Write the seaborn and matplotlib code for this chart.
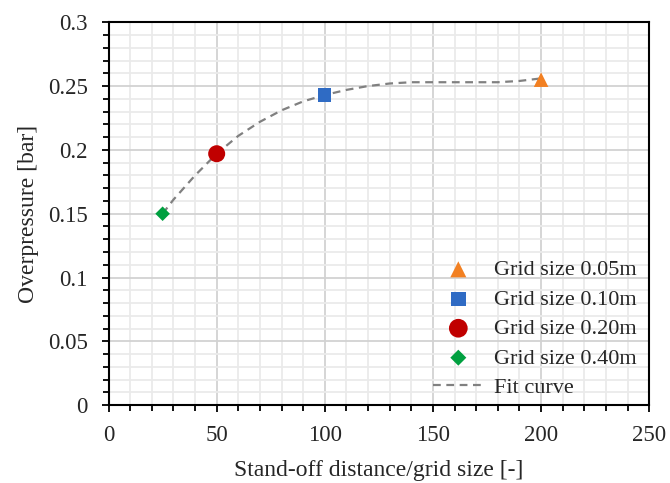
import pandas as pd
import seaborn as sns
import matplotlib.pyplot as plt
from matplotlib.ticker import MultipleLocator

# dados
grid_labels = ["Grid size 0.05m", "Grid size 0.10m", "Grid size 0.20m", "Grid size 0.40m"]
standoff = [200, 100, 50, 25]
overpressure = [0.255, 0.243, 0.197, 0.150]

fit_x = [25, 30, 40, 50, 60, 70, 80, 90, 100, 110, 120, 130, 140, 150, 160, 170, 180, 190, 200]
fit_y = [0.150, 0.161, 0.180, 0.197, 0.211, 0.222, 0.231, 0.238, 0.243, 0.247, 0.250, 0.252,
         0.253, 0.253, 0.253, 0.253, 0.253, 0.254, 0.256]

y_ticks = [0, 0.05, 0.1, 0.15, 0.2, 0.25, 0.3]
y_tick_labels = ["0", "0.05", "0.1", "0.15", "0.2", "0.25", "0.3"]
x_ticks = [0, 50, 100, 150, 200, 250]

cores = ["#F28022", "#2F6BC4", "#C00000", "#00A040"]
marcadores = ["^", "s", "o", "D"]
tamanhos = [110, 90, 150, 55]

sns.set_theme(style="white")
plt.rcParams["font.family"] = ["Liberation Serif", "DejaVu Serif"]

df_pts = pd.DataFrame({"x": standoff, "y": overpressure, "grupo": grid_labels})
df_fit = pd.DataFrame({"x": fit_x, "y": fit_y})

fig, ax = plt.subplots(figsize=(6.7, 4.83), dpi=100)
fig.subplots_adjust(left=0.162, right=0.969, top=0.954, bottom=0.161)

sns.lineplot(data=df_fit, x="x", y="y", ax=ax, color="#808080", linestyle=(0, (3.5, 2.5)),
             linewidth=1.6, label="Fit curve", zorder=2)

for lab, c, m, s in zip(grid_labels, cores, marcadores, tamanhos):
    sub = df_pts[df_pts["grupo"] == lab]
    sns.scatterplot(data=sub, x="x", y="y", ax=ax, color=c, marker=m, s=s,
                    edgecolor="none", label=lab, zorder=3)

ax.set_xticks(x_ticks)
ax.set_yticks(y_ticks)
ax.set_yticklabels(y_tick_labels)
ax.xaxis.set_minor_locator(MultipleLocator(10))
ax.yaxis.set_minor_locator(MultipleLocator(0.01))
ax.set_xlim(0, 250)
ax.set_ylim(0, 0.3)

ax.grid(which="major", color="#D2D2D2", linewidth=1.3, zorder=0)
ax.grid(which="minor", color="#EAEAEA", linewidth=1.3, zorder=0)
ax.set_axisbelow(True)

for sp in ax.spines.values():
    sp.set_color("black")
    sp.set_linewidth(1.5)

ax.tick_params(which="both", direction="out", color="black", width=1.3, length=5,
               bottom=True, left=True, labelsize=16.5)
ax.tick_params(which="minor", length=4)
ax.tick_params(axis="x", which="major", pad=9)
ax.tick_params(axis="y", which="major", pad=10)

ax.set_xlabel("Stand-off distance/grid size [-]", fontsize=17, labelpad=10)
ax.set_ylabel("Overpressure [bar]", fontsize=17, labelpad=6)

# ordem da legenda: pontos primeiro, depois a curva
h, l = ax.get_legend_handles_labels()
ordem = [l.index(x) for x in grid_labels + ["Fit curve"]]
ax.legend([h[i] for i in ordem], [l[i] for i in ordem], loc="lower right", frameon=False,
          fontsize=16, handletextpad=0.45, handlelength=2.3, labelspacing=0.4,
          borderaxespad=0.1, markerscale=1.1, bbox_to_anchor=(0.997, -0.01))

fig.savefig("out.png", dpi=100)
